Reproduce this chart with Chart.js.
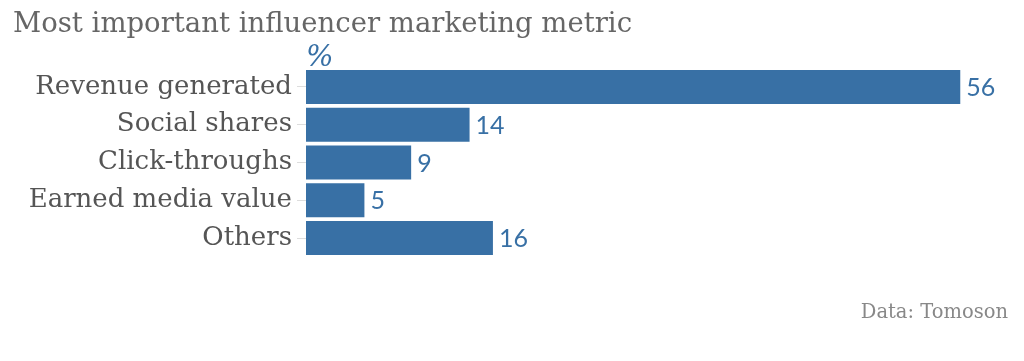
<!DOCTYPE html>
<html>
<head>
<meta charset="utf-8">
<script src="https://cdn.jsdelivr.net/npm/chart.js@4/dist/chart.umd.min.js"></script>
<style>
  html, body { margin: 0; padding: 0; background: #fff; }
  #wrap { width: 1024px; height: 361px; }
</style>
</head>
<body>
<div id="wrap"><canvas id="metricChart" width="1024" height="361"></canvas></div>
<script>
const categories = ['Revenue generated', 'Social shares', 'Click-throughs', 'Earned media value', 'Others'];
const values = [56, 14, 9, 5, 16];
const chartTitle = 'Most important influencer marketing metric';
const unitLabel = '%';
const sourceLabel = 'Data: Tomoson';

const blue = '#3870a5';
const serif = '"DejaVu Serif", serif';

// draws title, unit, source and the value next to each bar
const extraText = {
    id: 'extraText',
    afterDatasetsDraw(chart) {
        const ctx = chart.ctx;
        const area = chart.chartArea;
        ctx.save();
        ctx.textBaseline = 'alphabetic';
        ctx.fillStyle = '#666';
        ctx.font = '27.5px ' + serif;
        ctx.textAlign = 'left';
        ctx.fillText(chartTitle, 13, 32);

        ctx.fillStyle = blue;
        ctx.font = 'italic 29px ' + serif;
        ctx.fillText(unitLabel, area.left, 66);

        ctx.fillStyle = '#888';
        ctx.font = '19.5px ' + serif;
        ctx.textAlign = 'right';
        ctx.fillText(sourceLabel, 1008, 318);

        // value labels
        ctx.fillStyle = blue;
        ctx.font = '25px Lato, "Open Sans", sans-serif';
        ctx.textAlign = 'left';
        ctx.textBaseline = 'middle';
        const meta = chart.getDatasetMeta(0);
        meta.data.forEach((bar, i) => {
            ctx.fillText(String(values[i]), bar.x + 6, bar.y + 1);
        });
        ctx.restore();
    }
};

new Chart(document.getElementById('metricChart'), {
    type: 'bar',
    data: {
        labels: categories,
        datasets: [{
            data: values,
            backgroundColor: blue,
            borderWidth: 0,
            categoryPercentage: 1.0,
            barPercentage: 0.9
        }]
    },
    options: {
        indexAxis: 'y',
        responsive: false,
        animation: false,
        layout: { padding: { top: 68, bottom: 104, left: 0, right: 17 } },
        plugins: {
            legend: { display: false },
            title: { display: false },
            tooltip: { enabled: false }
        },
        scales: {
            x: {
                min: 0,
                max: 60,
                display: false
            },
            y: {
                afterFit: (axis) => { axis.width = 306; },
                border: { display: false },
                grid: {
                    drawOnChartArea: false,
                    drawTicks: true,
                    tickLength: 9,
                    color: '#ddd',
                    offset: false
                },
                ticks: {
                    color: '#555',
                    font: { family: serif, size: 26 },
                    padding: 5
                }
            }
        }
    },
    plugins: [extraText]
});
</script>
</body>
</html>
